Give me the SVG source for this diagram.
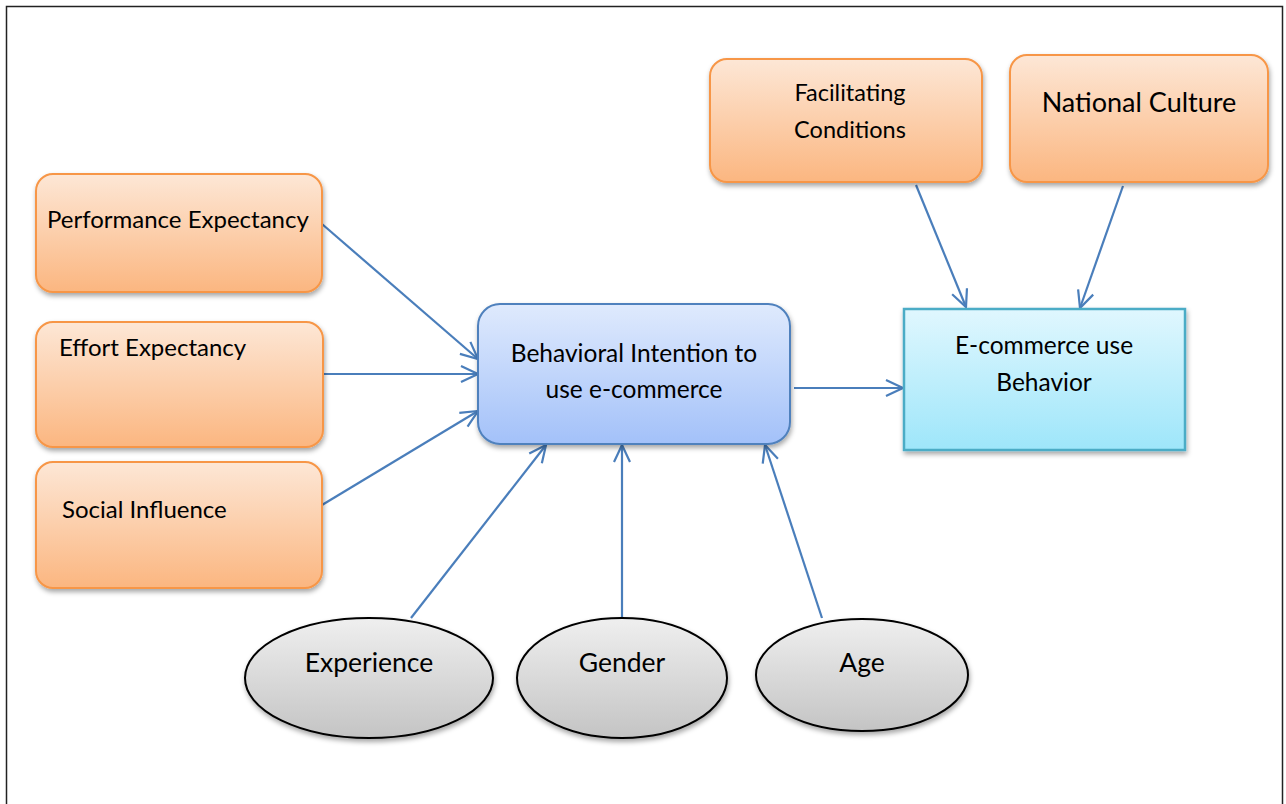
<svg xmlns="http://www.w3.org/2000/svg" width="1286" height="804" viewBox="0 0 1286 804">
<style>
.t{font-family:Lato,"Open Sans","Liberation Sans",sans-serif;fill:#000}
.or{fill:url(#gOr);stroke:#f79646;stroke-width:2;filter:url(#sh)}
.bl{fill:url(#gBl);stroke:#4f81bd;stroke-width:2;filter:url(#sh)}
.cy{fill:url(#gCy);stroke:#4bacc6;stroke-width:2.5;filter:url(#sh)}
.el{fill:url(#gGr);stroke:#000;stroke-width:2;filter:url(#sh)}
.c{stroke:#4a7ebb;stroke-width:2.2;fill:none;marker-end:url(#ah)}
</style>
<defs>
<linearGradient id="gOr" x1="0" y1="0" x2="0" y2="1"><stop offset="0" stop-color="#fde7d6"/><stop offset="1" stop-color="#fbb680"/></linearGradient>
<linearGradient id="gBl" x1="0" y1="0" x2="0" y2="1"><stop offset="0" stop-color="#dfeafd"/><stop offset="1" stop-color="#a3c1f9"/></linearGradient>
<linearGradient id="gCy" x1="0" y1="0" x2="0" y2="1"><stop offset="0" stop-color="#e0f7fe"/><stop offset="1" stop-color="#9ee6fa"/></linearGradient>
<linearGradient id="gGr" x1="0" y1="0" x2="0" y2="1"><stop offset="0" stop-color="#efefef"/><stop offset="1" stop-color="#c4c4c4"/></linearGradient>
<filter id="sh" x="-10%" y="-10%" width="125%" height="130%"><feDropShadow dx="1" dy="3" stdDeviation="2.5" flood-color="#000" flood-opacity="0.35"/></filter>
<marker id="ah" viewBox="0 0 20 20" refX="19" refY="10" markerWidth="20" markerHeight="20" markerUnits="userSpaceOnUse" orient="auto"><path d="M2 2 L19 10 L2 18" fill="none" stroke="#4a7ebb" stroke-width="2.2"/></marker>
</defs>
<rect x="0" y="0" width="1286" height="804" fill="#fff"/>
<path d="M6.5 820 V6.5 H1282.5 V820" fill="none" stroke="#222" stroke-width="1.5"/>
<g id="connectors">
<line class="c" x1="322" y1="224" x2="478" y2="359"/>
<line class="c" x1="324" y1="374" x2="478" y2="374"/>
<line class="c" x1="322" y1="505" x2="478" y2="411"/>
<line class="c" x1="411" y1="618" x2="546" y2="445"/>
<line class="c" x1="622" y1="618" x2="622" y2="445"/>
<line class="c" x1="822" y1="618" x2="765" y2="445"/>
<line class="c" x1="794" y1="388" x2="903" y2="388"/>
<line class="c" x1="916" y1="185" x2="966" y2="307"/>
<line class="c" x1="1123" y1="186" x2="1080" y2="308"/>
</g>
<g id="pe"><rect class="or" x="36" y="174" width="286" height="118" rx="17"/><text class="t" x="47" y="228" font-size="24">Performance Expectancy</text></g>
<g id="ee"><rect class="or" x="36" y="322" width="287" height="125" rx="17"/><text class="t" x="59" y="356" font-size="24">Effort Expectancy</text></g>
<g id="si"><rect class="or" x="36" y="462" width="286" height="126" rx="17"/><text class="t" x="62" y="518" font-size="24">Social Influence</text></g>
<g id="fc"><rect class="or" x="710" y="59" width="272" height="123" rx="17"/><text class="t" x="850" y="101" font-size="23.5" text-anchor="middle">Facilitating</text><text class="t" x="850" y="138" font-size="23.5" text-anchor="middle">Conditions</text></g>
<g id="nc"><rect class="or" x="1010" y="55" width="258" height="127" rx="17"/><text class="t" x="1139" y="112" font-size="27" text-anchor="middle">National Culture</text></g>
<g id="bi"><rect class="bl" x="478" y="304" width="312" height="140" rx="22"/><text class="t" x="634" y="362" font-size="24.5" text-anchor="middle">Behavioral Intention to</text><text class="t" x="634" y="398" font-size="24.5" text-anchor="middle">use e-commerce</text></g>
<g id="ecu"><rect class="cy" x="904" y="309" width="281" height="141"/><text class="t" x="1044" y="354" font-size="24.5" text-anchor="middle">E-commerce use</text><text class="t" x="1044" y="391" font-size="24.5" text-anchor="middle">Behavior</text></g>
<g id="exp"><ellipse class="el" cx="369" cy="678" rx="124" ry="60"/><text class="t" x="369" y="672" font-size="26.5" text-anchor="middle">Experience</text></g>
<g id="gen"><ellipse class="el" cx="622" cy="678" rx="105" ry="60"/><text class="t" x="622" y="672" font-size="26.5" text-anchor="middle">Gender</text></g>
<g id="age"><ellipse class="el" cx="862" cy="675" rx="106" ry="56"/><text class="t" x="862" y="672" font-size="26.5" text-anchor="middle">Age</text></g>
</svg>
